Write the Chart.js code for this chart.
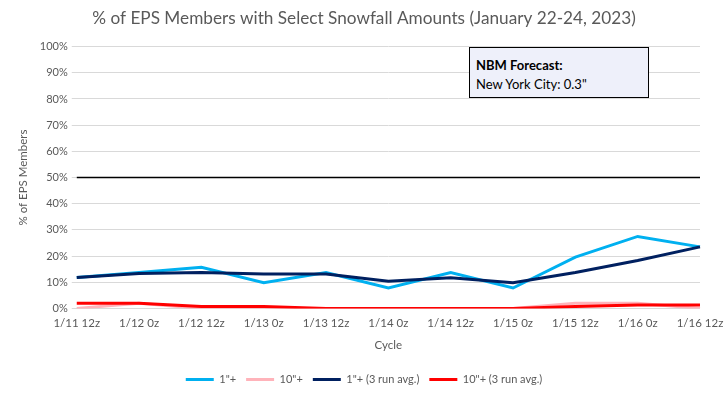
<!DOCTYPE html>
<html><head><meta charset="utf-8">
<script src="https://cdn.jsdelivr.net/npm/chart.js@4/dist/chart.umd.min.js"></script>
<style>
html,body{margin:0;padding:0;background:#fff;}
#wrap{position:relative;width:726px;height:398px;}
#note{position:absolute;left:469px;top:47px;width:180px;height:51px;background:#EEF0FA;border:1px solid #000;box-sizing:border-box;font-family:Lato,"Liberation Sans",sans-serif;font-size:13px;color:#000;padding:8px 0 0 6px;line-height:19px;}
#note b{font-weight:bold;}
</style></head>
<body><div id="wrap"><canvas id="c" width="726" height="398"></canvas>
<div id="note"><b>NBM Forecast:</b><br>New York City: 0.3"</div></div>
<script>
const categories = ["1/11 12z","1/12 0z","1/12 12z","1/13 0z","1/13 12z","1/14 0z","1/14 12z","1/15 0z","1/15 12z","1/16 0z","1/16 12z"];
const oneInch = [11.8, 13.7, 15.7, 9.8, 13.7, 7.8, 13.7, 7.8, 19.6, 27.5, 23.5];
const tenInch = [0, 2.0, 0, 0, 0, 0, 0, 0, 2.0, 2.0, 0];
const oneInchAvg = [11.8, 13.3, 13.7, 13.1, 13.1, 10.4, 11.7, 9.8, 13.7, 18.3, 23.5];
const tenInchAvg = [2.0, 2.0, 0.7, 0.7, 0, 0, 0, 0, 0.7, 1.3, 1.3];
const threshold = [50, 50, 50, 50, 50, 50, 50, 50, 50, 50, 50];
const yTicks = [0,10,20,30,40,50,60,70,80,90,100];

const FONT = "Lato";
const TXT = "#595959";
new Chart(document.getElementById("c"), {
  type: "line",
  data: {
    labels: categories,
    datasets: [
      {label: '1"+', data: oneInch, borderColor: "#00B0F0", backgroundColor: "#00B0F0", borderWidth: 3, order: 4},
      {label: '10"+', data: tenInch, borderColor: "#FFB3BA", backgroundColor: "#FFB3BA", borderWidth: 3, order: 3},
      {label: '1"+ (3 run avg.)', data: oneInchAvg, borderColor: "#002060", backgroundColor: "#002060", borderWidth: 3, order: 2},
      {label: '10"+ (3 run avg.)', data: tenInchAvg, borderColor: "#FF0000", backgroundColor: "#FF0000", borderWidth: 3, order: 1},
      {label: "50%", data: threshold, borderColor: "#000000", borderWidth: 1.3, order: 5}
    ]
  },
  options: {
    responsive: false,
    animation: false,
    devicePixelRatio: 1,
    elements: {point: {radius: 0}, line: {tension: 0}},
    layout: {padding: {left: 16, right: 14, top: 6, bottom: 3}},
    plugins: {
      tooltip: {enabled: false},
      title: {display: true, text: "% of EPS Members with Select Snowfall Amounts (January 22-24, 2023)",
        color: TXT, font: {family: FONT, size: 17.2, weight: "normal"}, padding: {top: 2, bottom: 18}},
      legend: {position: "bottom",
        labels: {color: TXT, font: {family: FONT, size: 11}, usePointStyle: true, pointStyle: "line", pointStyleWidth: 28, boxHeight: 3, padding: 10,
          sort: (a, b) => a.datasetIndex - b.datasetIndex,
          filter: (item) => item.text !== "50%"}}
    },
    scales: {
      x: {offset: false,
        afterFit: (s) => { s.paddingRight = 26; },
        grid: {display: false, drawTicks: false},
        border: {display: false},
        ticks: {color: TXT, font: {family: FONT, size: 11.5}, maxRotation: 0, autoSkip: false, padding: 8},
        title: {display: true, text: "Cycle", color: TXT, font: {family: FONT, size: 11.5}, padding: {top: 0, bottom: 12}}},
      y: {min: 0, max: 100,
        afterBuildTicks: (s) => { s.ticks = yTicks.map(v => ({value: v})); },
        grid: {color: "#D9D9D9", lineWidth: 1, drawTicks: true, tickLength: 5},
        border: {display: false},
        ticks: {color: TXT, font: {family: FONT, size: 11}, padding: 4, callback: (v) => v + "%"},
        title: {display: true, text: "% of EPS Members", color: TXT, font: {family: FONT, size: 11.5}, padding: {top: 0, bottom: 6}}}
    }
  }
});
</script></body></html>
